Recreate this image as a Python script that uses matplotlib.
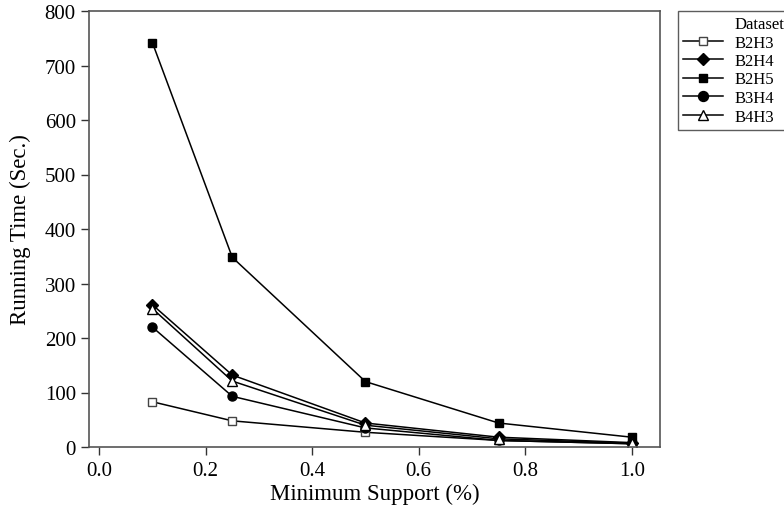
import matplotlib
matplotlib.use("Agg")
import matplotlib.pyplot as plt
from matplotlib.lines import Line2D

plt.rcParams['font.family'] = ['Liberation Serif', 'DejaVu Serif']

support = [0.1, 0.25, 0.5, 0.75, 1.0]
b2h3 = [83, 48, 27, 12, 6]
b2h4 = [261, 132, 44, 18, 8]
b2h5 = [742, 348, 120, 44, 18]
b3h4 = [220, 93, 35, 12, 6]
b4h3 = [254, 121, 40, 15, 7]

series = [
    ("B2H3", b2h3, dict(marker='s', mfc='white', mec='#444444', ms=5.5, mew=1.0)),
    ("B2H4", b2h4, dict(marker='D', mfc='black', mec='black', ms=6)),
    ("B2H5", b2h5, dict(marker='s', mfc='black', mec='black', ms=5.5)),
    ("B3H4", b3h4, dict(marker='o', mfc='black', mec='black', ms=6.5)),
    ("B4H3", b4h3, dict(marker='^', mfc='white', mec='black', ms=6.5, mew=1.0)),
]

fig = plt.figure(figsize=(7.84, 5.10), dpi=100)
ax = fig.add_axes([89/784, 62/510, 571/784, 436/510])

handles = [Line2D([], [], linestyle='none', marker='')]
labels = ["Dataset"]
for name, vals, style in series:
    h, = ax.plot(support, vals, color='black', lw=1.1, label=name, **style)
    handles.append(h)
    labels.append(name)

ax.set_xlim(-0.019, 1.053)
ax.set_ylim(0, 800)
ax.set_xticks([0.0, 0.2, 0.4, 0.6, 0.8, 1.0])
ax.set_xticklabels(["0.0", "0.2", "0.4", "0.6", "0.8", "1.0"])
ax.set_yticks(range(0, 801, 100))
ax.tick_params(axis='both', labelsize=15, direction='out', length=6, width=1,
               top=False, right=False, colors='#333333', labelcolor='black')
ax.tick_params(axis='x', pad=4)
for s in ax.spines.values():
    s.set_color('#555555')
    s.set_linewidth(1.2)

ax.set_xlabel("Minimum Support (%)", fontsize=16.5, labelpad=2)
ax.set_ylabel("Running Time (Sec.)", fontsize=16.5, labelpad=10)

leg = fig.legend(handles, labels, loc='upper left', bbox_to_anchor=(678/784, 1 - 12/510),
                 frameon=True, fancybox=False, fontsize=12, handlelength=2.4,
                 borderpad=0.3, labelspacing=0.15, handletextpad=0.7, borderaxespad=0,
                 markerscale=1.1)
leg.get_frame().set_edgecolor('#333333')
leg.get_frame().set_linewidth(1.0)

fig.savefig("out.png", dpi=100)
